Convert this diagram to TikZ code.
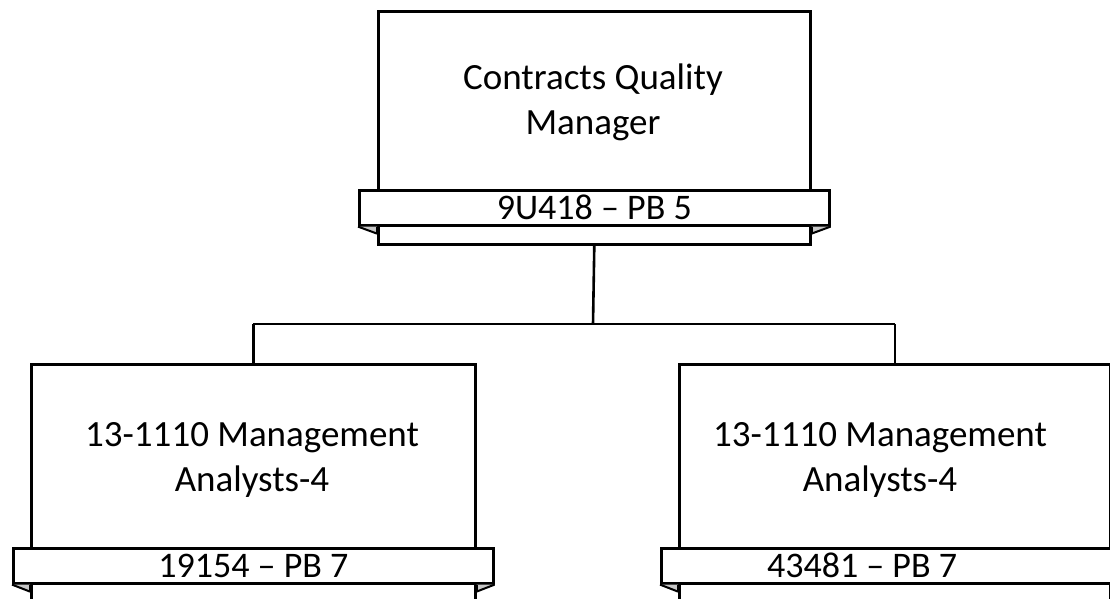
\documentclass[tikz,border=0pt]{standalone}
\usepackage{fontspec}
\setmainfont{Carlito}
\usetikzlibrary{calc}
\begin{document}
\begin{tikzpicture}[x=1pt,y=-1pt,
  orgbox/.style={draw=black,line width=2.6pt,fill=white,inner sep=0pt,anchor=north west},
  ribbon/.style={draw=black,line width=2.6pt,fill=white,inner sep=0pt,anchor=north west,minimum height=35pt,font=\fontsize{36}{38}\selectfont},
  title/.style={align=center,font=\fontsize{37}{45}\selectfont,inner sep=0pt,anchor=base},
  fold/.style={fill=black!22},
  link/.style={draw=black,line width=2.6pt}]
\useasboundingbox (0,0) rectangle (1110,598);
% top box
\node[orgbox,minimum width=432pt,minimum height=233pt] (top) at (377,10) {};
\node[ribbon,minimum width=470pt] (topr) at (358,189) {9U418 – PB 5};
\node[title] (toptext) at (593,134) {Contracts Quality\\Manager};
% left box
\node[orgbox,minimum width=444pt,minimum height=245pt] (left) at (30,363) {};
\node[ribbon,minimum width=480pt] (leftr) at (12,547) {19154 – PB 7};
\node[title] (lefttext) at (252,491) {13-1110 Management\\Analysts-4};
% right box
\node[orgbox,minimum width=431pt,minimum height=245pt] (right) at (678,363) {};
\node[ribbon,minimum width=467pt] (rightr) at (660,547) {};
\node[ribbon,draw=none,fill=none,anchor=center] (rightrt) at (862,565) {43481 – PB 7};
\node[title] (righttext) at (880,491) {13-1110 Management\\Analysts-4};
% folds
\foreach \b/\r in {top/topr,left/leftr,right/rightr}{
  \fill[fold] (\r.south west) -- (\r.south west -| \b.west) -- ++(0,7) -- cycle;
  \draw[line width=2pt] (\r.south west) -- ($(\r.south west -| \b.west)+(0,7)$);
  \draw[line width=2.6pt] (\r.south west -| \b.west) -- ++(0,7);
  \fill[fold] (\r.south east) -- (\r.south east -| \b.east) -- ++(0,7) -- cycle;
  \draw[line width=2pt] (\r.south east) -- ($(\r.south east -| \b.east)+(0,7)$);
  \draw[line width=2.6pt] (\r.south east -| \b.east) -- ++(0,7);
}
% connectors
\coordinate (j) at (593,324);
\draw[link] (top.south) -- (j);
\draw[link] (j -| left.north) -- (j -| right.north);
\draw[link] (j -| left.north) -- (left.north);
\draw[link] (j -| right.north) -- (right.north);
\end{tikzpicture}
\end{document}
